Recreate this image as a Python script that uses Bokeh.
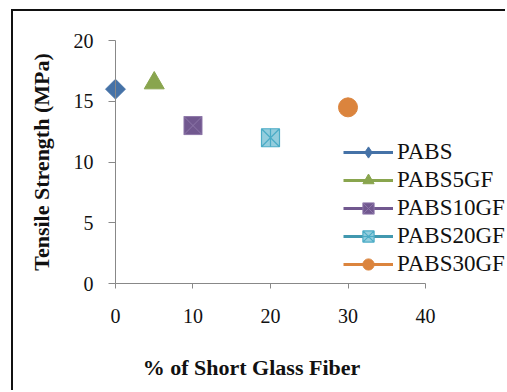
import math
from bokeh.plotting import figure
from bokeh.models import Legend, LegendItem, Range1d, FixedTicker, Label
from bokeh.embed import file_html
from bokeh.resources import INLINE

series = ["PABS", "PABS5GF", "PABS10GF", "PABS20GF", "PABS30GF"]
fiber_pct = [0, 5, 10, 20, 30]
tensile = [16.0, 16.5, 13.0, 12.0, 14.5]
colors = ["#4572A7", "#89A54E", "#71588F", "#4198AF", "#DB843D"]
x_ticks = [0, 10, 20, 30, 40]
y_ticks = [0, 5, 10, 15, 20]
x_title = "% of Short Glass Fiber"
y_title = "Tensile Strength (MPa)"

p = figure(width=494, height=381, output_backend="svg", toolbar_location=None,
           x_range=Range1d(-13.16, 50.58), y_range=Range1d(-8.97, 22.39),
           min_border_left=0, min_border_right=0, min_border_top=0, min_border_bottom=0)
p.styles = {"margin-left": "11px", "margin-top": "9px",
            "border-top": "2px solid #111", "border-left": "2px solid #111"}
p.outline_line_color = None
p.grid.visible = False
p.background_fill_color = "white"

font = "Liberation Serif"
for ax in (p.xaxis, p.yaxis):
    ax.axis_line_color = "#888888"
    ax.major_tick_line_color = "#888888"
    ax.minor_tick_line_color = None
    ax.major_label_text_font = font
    ax.major_label_text_font_size = "20px"
    ax.major_label_text_color = "#111111"
    ax.axis_label_text_font = font
    ax.axis_label_text_font_size = "22px"
    ax.axis_label_text_font_style = "bold"
    ax.axis_label_text_color = "#111111"
    ax.major_tick_in = 0

p.xaxis.ticker = FixedTicker(ticks=x_ticks)
p.yaxis.ticker = FixedTicker(ticks=y_ticks)
p.xaxis.bounds = (0, 40)
p.yaxis.bounds = (0, 20)
p.xaxis.fixed_location = 0
p.yaxis.fixed_location = 0
p.xaxis.major_tick_out = 5
p.yaxis.major_tick_out = 7
p.xaxis.major_label_standoff = 20
p.yaxis.major_label_standoff = 15
p.yaxis.axis_label = y_title
p.yaxis.axis_label_standoff = 17

p.add_layout(Label(x=238, y=25, x_units="screen", y_units="screen", text=x_title,
                   text_align="center", text_baseline="middle", text_font=font,
                   text_font_size="22px", text_font_style="bold", text_color="#111111"))

items = []
for i, name in enumerate(series):
    x = [fiber_pct[i]]
    y = [tensile[i]]
    c = colors[i]
    ln = p.line(x, y, line_color=c, line_width=3)
    rs = [ln]
    if i == 0:
        p.scatter(x, y, marker="square", angle=math.pi / 4, size=14,
                  fill_color=c, line_color=c)
        leg = p.scatter(x, y, marker="diamond", size=14, fill_color=c, line_color=c)
        leg.visible = False
        rs.append(leg)
    elif i == 1:
        rs.append(p.scatter(x, y, marker="triangle", size=20, fill_color=c, line_color=c))
    elif i == 2:
        rs.append(p.scatter(x, y, marker="square_x", size=18, fill_color=c,
                            line_color="#8c76a8", line_width=1))
    elif i == 3:
        rs.append(p.scatter(x, y, marker="square_x", size=18, fill_color="#93CDDD",
                            line_color="#4BACC6", line_width=1.2))
        rs.append(p.scatter(x, y, marker="dash", angle=math.pi / 2, size=18,
                            line_color="#4BACC6", line_width=1.2))
    else:
        rs.append(p.scatter(x, y, marker="circle", size=19, fill_color=c, line_color=c))
    items.append(LegendItem(label=name, renderers=rs))

legend = Legend(items=items, location=(330, 114), orientation="vertical",
                label_text_font=font, label_text_font_size="23px", label_text_color="#111111",
                glyph_width=50, glyph_height=28, label_height=22, spacing=0,
                padding=0, margin=0, border_line_color=None, background_fill_alpha=0,
                inactive_fill_alpha=0, label_standoff=4)
p.add_layout(legend, "center")

open("out.html", "w").write(file_html(p, INLINE))
